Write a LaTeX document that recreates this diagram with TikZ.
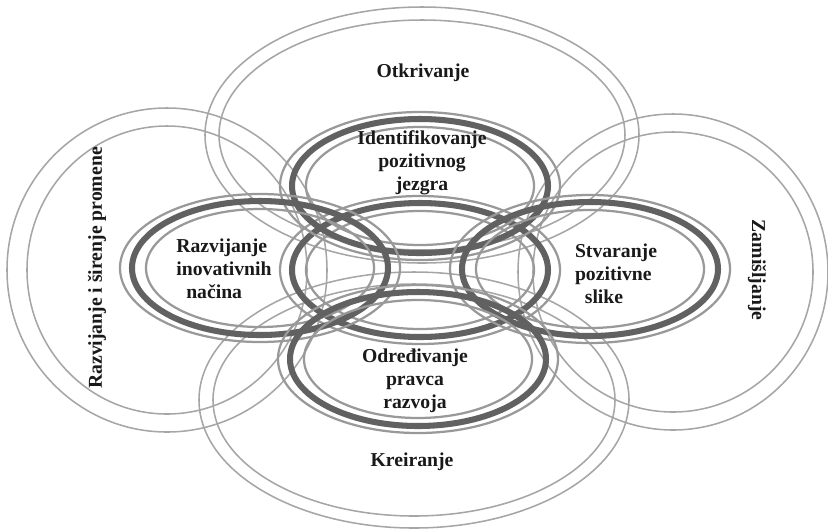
\documentclass[tikz,border=0pt]{standalone}
\usepackage{fontspec}
\setmainfont{Liberation Serif}
\usetikzlibrary{positioning}

\tikzset{
  bigring/.style={draw=black!35, line width=1.1pt},
  thinring/.style={draw=black!40, line width=1.6pt},
  thickring/.style={draw=black!62, line width=4.3pt},
  txt/.style={font=\bfseries\fontsize{14}{16.2}\selectfont, text=black!90, inner sep=0pt}
}

\begin{document}
\begin{tikzpicture}[x=0.025cm, y=-0.025cm]
\useasboundingbox (0,0) rectangle (828,529);

% velike elipse (faze)
\draw[bigring] (422,135) ellipse [x radius=217, y radius=128];
\draw[bigring] (422,135) ellipse [x radius=203, y radius=115];
\draw[bigring] (414,400) ellipse [x radius=215, y radius=128];
\draw[bigring] (414,400) ellipse [x radius=201, y radius=116];
\draw[bigring] (167,270) ellipse [x radius=160, y radius=162];
\draw[bigring] (167,270) ellipse [x radius=140, y radius=144];
\draw[bigring] (673,272) ellipse [x radius=155, y radius=158];
\draw[bigring] (673,272) ellipse [x radius=140, y radius=140];

% unutrasnje elipse
\foreach \cx/\cy in {420/270, 420/186, 260/268, 590/269, 418/359} {
  \draw[thinring] (\cx,\cy) ellipse [x radius=140, y radius=74];
  \draw[thickring] (\cx,\cy) ellipse [x radius=128, y radius=67];
  \draw[thinring] (\cx,\cy) ellipse [x radius=114, y radius=59];
}

\node[txt] (otkrivanje) at (423,73) {Otkrivanje};
\node[txt] (kreiranje) at (412,462) {Kreiranje};
\node[txt, rotate=-90] (zamisljanje) at (757,270) {Zamišljanje};
\node[txt, rotate=90] (razvijanje) at (97,268) {Razvijanje i širenje promene};

\node[txt, align=center] (jezgro) at (422,163) {Identifikovanje\\pozitivnog\\jezgra};
\node[txt, align=left] (nacini) at (224,269) {Razvijanje\\inovativnih\\\hspace*{0.5em}načina};
\node[txt, align=left] (slika) at (616,274) {Stvaranje\\pozitivne\\\hspace*{0.5em}slike};
\node[txt, align=center] (pravac) at (415,381) {Određivanje\\pravca\\razvoja};
\end{tikzpicture}
\end{document}
